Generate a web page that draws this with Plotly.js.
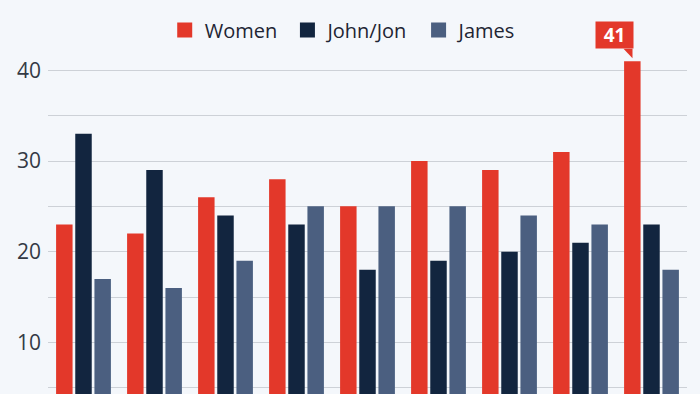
<!DOCTYPE html>
<html>
<head>
<meta charset="utf-8">
<script src="https://cdn.plot.ly/plotly-3.0.1.min.js"></script>
<style>
html,body{margin:0;padding:0;background:#f4f7fb;overflow:hidden;}
#chart{width:700px;height:394px;}
</style>
</head>
<body>
<div id="chart"></div>
<script>
const categories = ['1','2','3','4','5','6','7','8','9'];
const seriesNames = ['Women', 'John/Jon', 'James'];
const women = [23, 22, 26, 28, 25, 30, 29, 31, 41];
const johnJon = [33, 29, 24, 23, 18, 19, 20, 21, 23];
const james = [17, 16, 19, 25, 25, 25, 24, 23, 18];
const tickValues = [5, 10, 15, 20, 25, 30, 35, 40];
const tickLabels = ['', '10', '', '20', '', '30', '', '40'];
const highlightIndex = 8;

const font = "'Open Sans', 'DejaVu Sans', sans-serif";
const colors = ['#e3382a', '#12253f', '#4b5f80'];
const series = [women, johnJon, james];

const traces = [];
series.forEach((vals, i) => {
  traces.push({type:'bar', name:seriesNames[i], x:categories, y:vals, marker:{color:colors[i]},
               hoverinfo:'skip', showlegend:false, legendgroup:'g'+i});
});
series.forEach((vals, i) => {
  traces.push({type:'scatter', mode:'markers', name:seriesNames[i] + (i < 2 ? '\u00a0' : ''),
               x:[null], y:[null], marker:{symbol:'square', size:15, color:colors[i]},
               hoverinfo:'skip', showlegend:true, legendgroup:'g'+i});
});

const layout = {
  width:700, height:394,
  margin:{l:48, r:13, t:20, b:0, pad:0},
  paper_bgcolor:'#f4f7fb', plot_bgcolor:'#f4f7fb',
  barmode:'group', bargap:0.19, bargroupgap:0.14,
  showlegend:true,
  legend:{orientation:'h', x:0.462, xanchor:'center', y:0.973, yanchor:'middle',
          font:{family:font, size:20, color:'#1e2533'}, bgcolor:'rgba(0,0,0,0)', traceorder:'normal'},
  xaxis:{type:'category', range:[-0.5, 8.5], autorange:false, showticklabels:false, showgrid:false,
         zeroline:false, showline:false, ticks:'', fixedrange:true},
  yaxis:{range:[4.31, 45.55], autorange:false, tickvals:tickValues, ticktext:tickLabels, showgrid:true,
         gridcolor:'#cdd1d7', gridwidth:1, zeroline:false, showline:false, ticks:'', ticklabelstandoff:6,
         tickfont:{family:font, size:21, color:'#333a45'}, fixedrange:true},
  annotations:[{
    x:highlightIndex, y:women[highlightIndex], xref:'x', yref:'y',
    text:'<b>' + women[highlightIndex] + '</b>', showarrow:false,
    xanchor:'center', yanchor:'bottom', xshift:-37.5, yshift:12,
    width:37, height:26, bgcolor:'#e3382a', borderpad:0,
    font:{family:font, size:19, color:'#ffffff'}
  }],
  shapes:[{
    type:'path', xref:'x', yref:'y', xsizemode:'pixel', ysizemode:'pixel',
    xanchor:highlightIndex, yanchor:women[highlightIndex],
    path:'M -19,12.5 L -19,3 L -28,12.5 Z', fillcolor:'#e3382a', line:{width:0}, layer:'above'
  }]
};

Plotly.newPlot('chart', traces, layout, {displayModeBar:false, staticPlot:true});
</script>
</body>
</html>
